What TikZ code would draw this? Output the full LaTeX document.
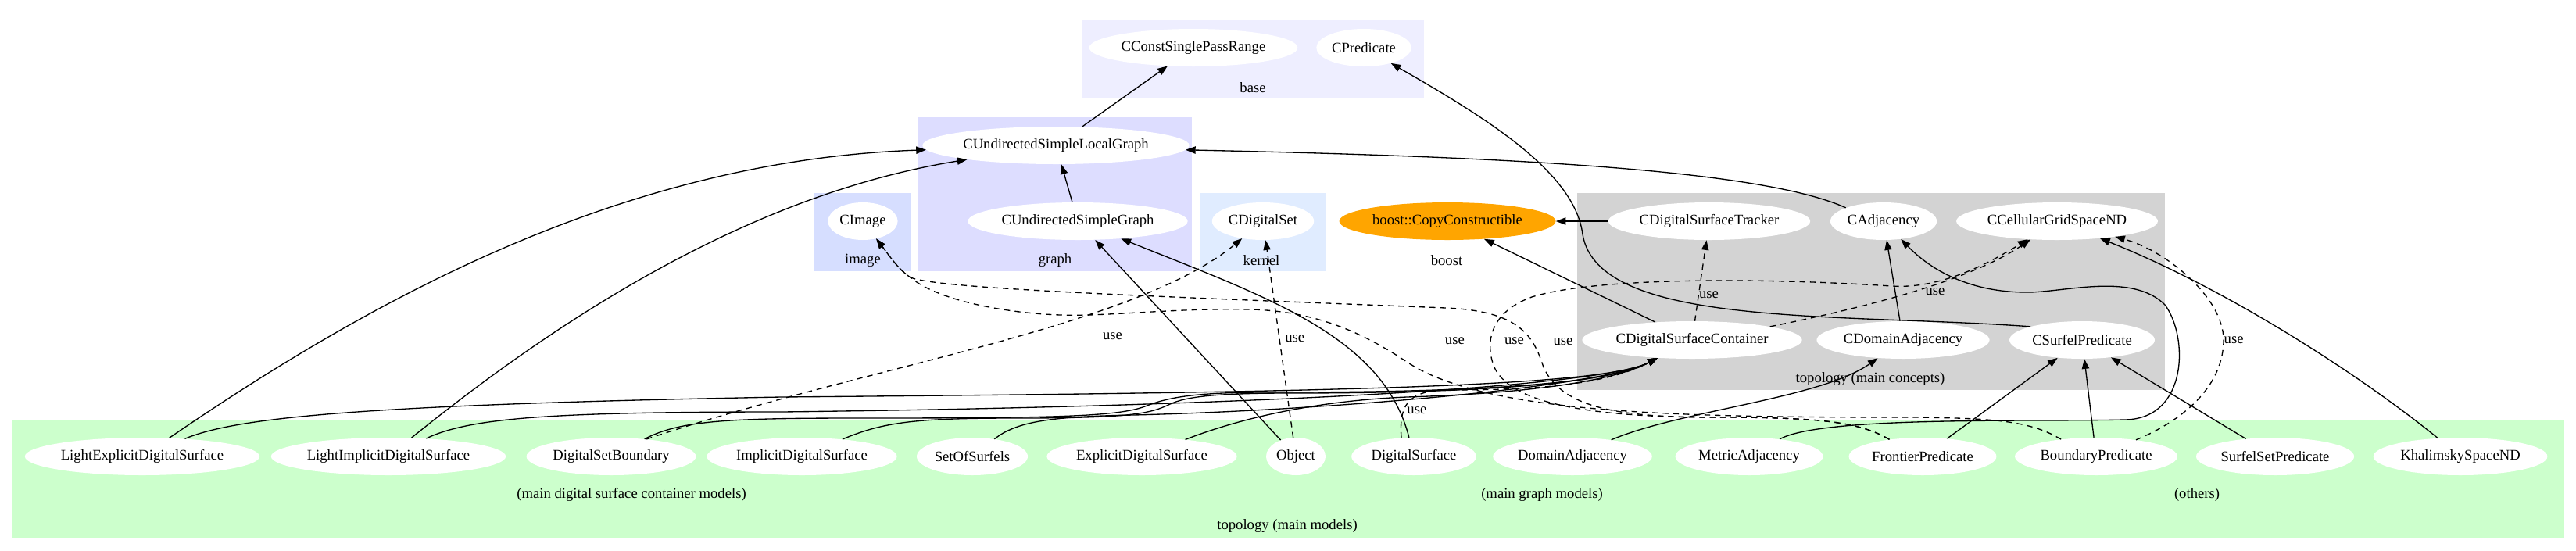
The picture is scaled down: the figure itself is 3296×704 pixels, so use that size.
\documentclass[tikz,border=0pt]{standalone}
\usepackage{fontspec}
\setmainfont{Liberation Serif}
\usetikzlibrary{positioning, shapes.geometric, arrows.meta}

\definecolor{basebg}{RGB}{238,238,255}
\definecolor{graphbg}{RGB}{221,221,255}
\definecolor{imagebg}{RGB}{214,222,255}
\definecolor{kernelbg}{RGB}{224,236,255}
\definecolor{conceptbg}{RGB}{211,211,211}
\definecolor{modelbg}{RGB}{204,255,204}
\definecolor{boostorange}{RGB}{255,165,0}

\begin{document}
\begin{tikzpicture}[
    x=0.75pt, y=-0.75pt,
    font=\fontsize{14}{17}\selectfont,
    concept/.style={ellipse, fill=white, inner xsep=1.5pt, minimum height=36pt},
    lbl/.style={inner sep=0pt},
    arrow/.style={-{Triangle[length=9.5pt, width=7pt]}, line width=1pt},
    usearrow/.style={arrow, dash pattern=on 5.5pt off 4.5pt}
]
\useasboundingbox (0,0) rectangle (3296,704);

\fill[basebg] (1385,26) rectangle (1822,126);
\fill[graphbg] (1175,150) rectangle (1525,347);
\fill[imagebg] (1042,247) rectangle (1166,347);
\fill[kernelbg] (1536,247) rectangle (1696,347);
\fill[conceptbg] (2018,247) rectangle (2770,499);
\fill[modelbg] (15,538) rectangle (3281,688);

\node (baselbl) at (1603,112) {base};
\node (graphlbl) at (1350,333) {graph};
\node (imagelbl) at (1104,333) {image};
\node (kernellbl) at (1614,333) {kernel};
\node (boostlbl) at (1851,333) {boost};
\node (conceptlbl) at (2393,485) {topology (main concepts)};
\node (surfmodlbl) at (808,633) {(main digital surface container models)};
\node (graphmodlbl) at (1973,633) {(main graph models)};
\node (othermodlbl) at (2811,633) {(others)};
\node (modellbl) at (1647,673) {topology (main models)};

\node[concept] (ccspr) at (1527,61) {CConstSinglePassRange};
\node[concept] (cpred) at (1745,61) {CPredicate};
\node[concept] (cuslg) at (1351,186) {CUndirectedSimpleLocalGraph};
\node[concept] (cimage) at (1104,283) {CImage};
\node[concept] (cusg) at (1379,283) {CUndirectedSimpleGraph};
\node[concept] (cdigset) at (1616,283) {CDigitalSet};
\node[concept, fill=boostorange] (boostcc) at (1852,283) {boost::CopyConstructible};
\node[concept] (cdstrack) at (2187,283) {CDigitalSurfaceTracker};
\node[concept] (cadj) at (2410,283) {CAdjacency};
\node[concept] (ccgs) at (2632,283) {CCellularGridSpaceND};
\node[concept] (cdsc) at (2165,435) {CDigitalSurfaceContainer};
\node[concept] (cdomadj) at (2435,435) {CDomainAdjacency};
\node[concept] (csurfpred) at (2664,435) {CSurfelPredicate};

\node[concept] (les) at (182,584) {LightExplicitDigitalSurface};
\node[concept] (lis) at (497,584) {LightImplicitDigitalSurface};
\node[concept] (dsb) at (782,584) {DigitalSetBoundary};
\node[concept] (ids) at (1026,584) {ImplicitDigitalSurface};
\node[concept] (sos) at (1244,584) {SetOfSurfels};
\node[concept] (eds) at (1461,584) {ExplicitDigitalSurface};
\node[concept] (obj) at (1658,584) {Object};
\node[concept] (ds) at (1809,584) {DigitalSurface};
\node[concept] (domadj) at (2012,584) {DomainAdjacency};
\node[concept] (metadj) at (2238,584) {MetricAdjacency};
\node[concept] (frontp) at (2460,584) {FrontierPredicate};
\node[concept] (boundp) at (2682,584) {BoundaryPredicate};
\node[concept] (ssp) at (2911,584) {SurfelSetPredicate};
\node[concept] (khal) at (3148,584) {KhalimskySpaceND};

\draw[arrow] (cuslg) -- (ccspr);
\draw[arrow] (cusg) -- (cuslg);
\draw[arrow] (cadj.north west) .. controls (2250,215) and (1900,200) .. (cuslg.-2);
\draw[arrow] (les) .. controls (480,380) and (800,205) .. (cuslg);
\draw[arrow] (lis) .. controls (700,420) and (950,250) .. (cuslg);
\draw[arrow] (obj) -- (cusg);
\draw[arrow] (ds) .. controls (1770,430) and (1620,380) .. (cusg);
\draw[arrow] (csurfpred.north west) .. controls (2350,400) and (2045,420) .. (2025,300) .. controls (2015,220) and (1900,150) .. (cpred);
\draw[arrow] (cdstrack) -- (boostcc);
\draw[arrow] (cdsc) -- (boostcc);
\draw[usearrow] (cdsc) -- node[lbl, pos=0.32, right] {use} (cdstrack);
\draw[usearrow] (cdsc.north east) .. controls (2380,395) and (2520,360) .. node[lbl, pos=0.55, anchor=north west] {use} (ccgs);
\draw[arrow] (cdomadj) -- (cadj);
\draw[arrow] (metadj) .. controls (2330,532) and (2600,540) .. (2720,537) .. controls (2800,535) and (2800,430) .. (2770,390) .. controls (2730,350) and (2650,372) .. (2598,374) .. controls (2520,375) and (2470,345) .. (cadj);
\draw[arrow] (domadj) .. controls (2150,525) and (2330,510) .. (cdomadj);
\draw[arrow] (frontp) -- (csurfpred);
\draw[arrow] (boundp) -- (csurfpred);
\draw[arrow] (ssp) -- (csurfpred);
\draw[arrow] (khal) .. controls (3020,480) and (2850,370) .. (ccgs);
\draw[usearrow] (boundp) .. controls (2800,535) and (2845,490) .. (2845,435) node[lbl, right] {use} .. controls (2845,380) and (2770,320) .. (ccgs);

\draw[usearrow] (obj) -- node[lbl, pos=0.5, right=5pt] {use} (cdigset);
\draw[usearrow] (dsb.26) .. controls (1100,470) and (1450,420) .. node[lbl, pos=0.55, xshift=93pt] {use} (cdigset);
\draw[usearrow] (ds.124) .. controls (1790,520) and (1800,500) .. node[lbl, pos=0.35, right=3pt] {use} (1850,499) .. controls (1950,499) and (2050,495) .. (cdsc);

\draw[arrow] (les) .. controls (300,535) and (450,518) .. (1000,508) .. controls (1700,502) and (2050,495) .. (cdsc);
\draw[arrow] (lis) .. controls (600,535) and (700,527) .. (1000,527) .. controls (1600,520) and (2050,495) .. (cdsc);
\draw[arrow] (dsb) .. controls (870,538) and (930,535) .. (1100,535) .. controls (1350,535) and (1430,533) .. (1465,520) .. controls (1495,508) and (1530,502) .. (1620,502) .. controls (1850,502) and (2050,495) .. (cdsc);
\draw[arrow] (ids) .. controls (1130,540) and (1170,535) .. (1300,535) .. controls (1440,535) and (1470,530) .. (1495,518) .. controls (1515,508) and (1550,503) .. (1650,503) .. controls (1850,503) and (2050,495) .. (cdsc);
\draw[arrow] (sos) .. controls (1300,540) and (1340,533) .. (1450,531) .. controls (1700,525) and (2050,495) .. (cdsc);
\draw[arrow] (eds) .. controls (1600,530) and (1700,512) .. (1800,508) .. controls (1900,505) and (2050,495) .. (cdsc);

\draw[usearrow] (frontp.153) .. controls (2380,540) and (2330,534) .. (2200,534) .. controls (2080,534) and (2000,525) .. (1975,470) .. controls (1962,430) and (1945,398) .. node[lbl, pos=0.3, right=20pt] {use} (1850,394) .. controls (1500,380) and (1200,370) .. (1165,355) .. controls (1150,345) and (1140,330) .. (cimage);
\draw[usearrow] (frontp.153) .. controls (2380,540) and (2330,534) .. (2200,534) .. controls (2050,534) and (1935,520) .. (1912,470) .. controls (1900,440) and (1905,400) .. node[lbl, pos=0.35, right=13pt] {use} (1960,380) .. controls (2040,355) and (2250,355) .. (2420,366) .. controls (2480,370) and (2540,340) .. (ccgs);
\draw[usearrow] (boundp.154) .. controls (2600,540) and (2560,535) .. (2450,534) .. controls (2150,534) and (1900,530) .. (1800,463) node[lbl, xshift=46pt, yshift=20pt] {use} .. controls (1740,423) and (1680,398) .. (1600,396) .. controls (1500,394) and (1420,405) .. (1357,403) .. controls (1290,401) and (1200,385) .. (1165,355) .. controls (1150,345) and (1140,330) .. (cimage);

\end{tikzpicture}
\end{document}
